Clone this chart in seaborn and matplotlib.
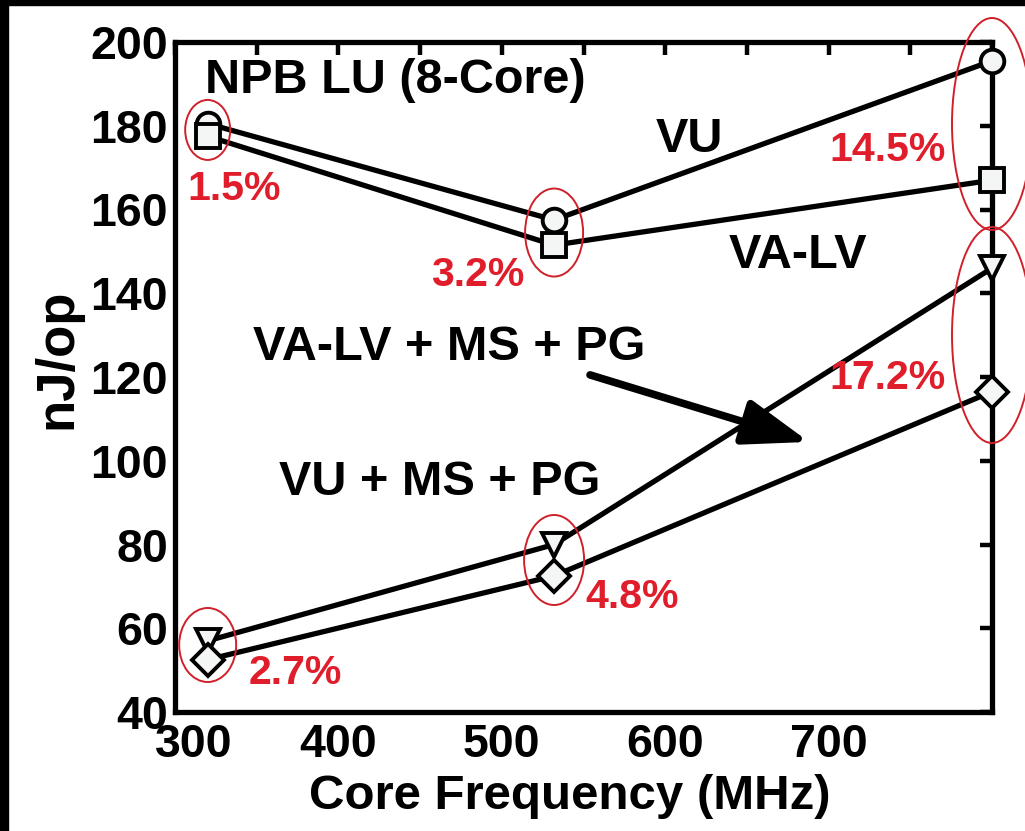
import matplotlib
matplotlib.use("Agg")
import matplotlib.pyplot as plt
import seaborn as sns
import pandas as pd
from matplotlib.patches import Ellipse, Rectangle
from matplotlib.transforms import ScaledTranslation
from matplotlib.ticker import MultipleLocator

sns.set_theme(style="white")
plt.rcParams['font.family'] = ['Liberation Sans', 'DejaVu Sans']
plt.rcParams['font.weight'] = 'bold'
plt.rcParams['text.color'] = 'black'
plt.rcParams['axes.labelcolor'] = 'black'

freq = [320, 532, 800]
vu = [180.5, 157.5, 195.5]
va_lv = [177.5, 151.5, 167.0]
vu_ms_pg = [57.0, 80.0, 146.0]
va_lv_ms_pg = [52.5, 72.5, 116.5]
series_names = ["VU", "VA-LV", "VU + MS + PG", "VA-LV + MS + PG"]
series_markers = ["o", "s", "v", "D"]

df = pd.DataFrame({
    "freq": freq * 4,
    "val": vu + va_lv + vu_ms_pg + va_lv_ms_pg,
    "series": sum([[n] * 3 for n in series_names], []),
})

fig = plt.figure(figsize=(10.25, 8.31), dpi=100)
fig.patch.set_facecolor("white")
ax = fig.add_axes([175/1025, 1-712/831, (992-175)/1025, (712-42)/831])

for name, mk in zip(series_names, series_markers):
    sub = df[df.series == name]
    ms = 17 if mk != "D" else 16
    sns.lineplot(data=sub, x="freq", y="val", ax=ax, color="black", lw=3.8,
                 marker=mk, markersize=ms, markerfacecolor="#f4f6f6",
                 markeredgecolor="black", markeredgewidth=2.8, legend=False,
                 clip_on=False, zorder=3)

ax.set_xlim(300, 800)
ax.set_ylim(40, 200)
ax.xaxis.set_minor_locator(MultipleLocator(50))
ax.yaxis.set_major_locator(MultipleLocator(20))
ax.set_xticks([300, 400, 500, 600, 700])
ax.set_xticklabels(["300", "400", "500", "600", "700"])
ax.tick_params(axis="both", which="both", direction="in", top=True, right=True,
               width=3.2, length=9, labelsize=33.5, pad=8, colors="black")
ax.tick_params(axis="y", pad=5)
for lab in ax.get_xticklabels() + ax.get_yticklabels():
    lab.set_fontweight("bold")
for sp in ax.spines.values():
    sp.set_linewidth(3.8)
    sp.set_color("black")

lbl = ax.get_xticklabels()[0]
lbl.set_transform(lbl.get_transform() + ScaledTranslation(0.19, 0, fig.dpi_scale_trans))

ax.set_xlabel("Core Frequency (MHz)", fontsize=35.5, fontweight="bold", color="black")
ax.xaxis.set_label_coords((570 - 175) / 817, -(774 - 712) / 670)
ax.set_ylabel("nJ/op", fontsize=38, fontweight="bold", color="black")
ax.yaxis.set_label_coords(-(175 - 82) / 817, 0.527)

# text labels
txt = dict(fontsize=35, fontweight="bold", color="black", va="center")
ax.text(318.5, 190.9, "NPB LU (8-Core)", ha="left", **txt)
ax.text(615, 176.6, "VU", ha="center", **txt)
ax.text(681, 149, "VA-LV", ha="center", **txt)
ax.text(468, 127, "VA-LV + MS + PG", ha="center", **txt)
ax.text(462, 94.7, "VU + MS + PG", ha="center", **txt)

red = "#e01e2b"
pct = [("1.5%", 336, 164.8), ("3.2%", 485.4, 144.4), ("14.5%", 736, 174.2),
       ("17.2%", 736, 119.8), ("2.7%", 373.4, 49.3), ("4.8%", 579.7, 67.5)]
for s, x, y in pct:
    ax.text(x, y, s, ha="center", va="center", fontsize=29.5, fontweight="bold", color=red)

# arrow
ax.annotate("", xy=(688, 104.5), xytext=(554, 120.5),
            arrowprops=dict(arrowstyle="-|>,head_length=1.0,head_width=0.35",
                            lw=5.5, color="black", mutation_scale=40,
                            shrinkA=0, shrinkB=0))

# ellipses (pixel dims converted to data units)
px_x = 500 / 817
px_y = 160 / 670
ells = [(320, 180.5 - 1.5, 45, 60), (532, 154.5, 58, 88), (800, 200 - (124 - 42) * px_y, 80, 212),
        (800, 200 - (335 - 42) * px_y, 80, 216), (532, 200 - (560 - 42) * px_y, 60, 90),
        (320, 200 - (645 - 42) * px_y, 57, 74)]
for cx, cy, w, h in ells:
    e = Ellipse((cx, cy), w * px_x, h * px_y, fill=False, edgecolor="#d0202a",
                lw=1.4, clip_on=False, zorder=4)
    ax.add_patch(e)

# black frame edges of the screenshot
fig.add_artist(Rectangle((0, 1 - 5/831), 1, 5/831, transform=fig.transFigure,
                         color="black", zorder=10))
fig.add_artist(Rectangle((0, 0), 8/1025, 1, transform=fig.transFigure,
                         color="black", zorder=10))

fig.savefig("out.png", dpi=100, facecolor="white")
